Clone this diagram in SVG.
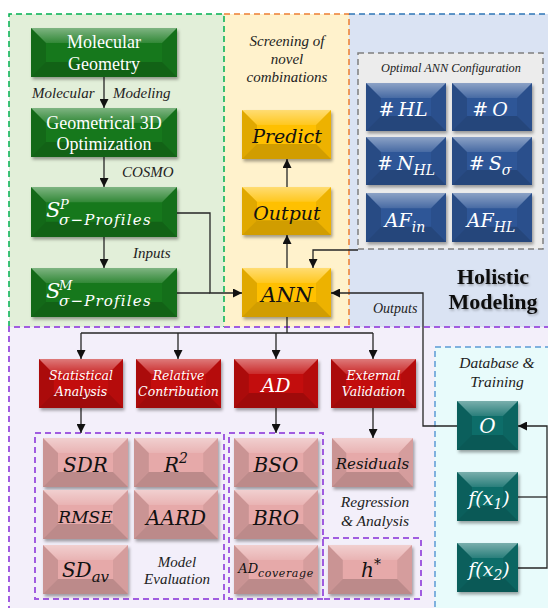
<svg xmlns="http://www.w3.org/2000/svg" xmlns:xlink="http://www.w3.org/1999/xlink" width="548" height="608" viewBox="0 0 548 608">
  <style>
    .ln { fill: none; stroke: #262626; stroke-width: 1.3; }
    .arr { marker-end: url(#ah); }
    .green { fill: #16781a; }
    .yellow { fill: #ffc000; }
    .blue { fill: #2f5697; }
    .red { fill: #c30a0e; }
    .pink { fill: #e6a9a9; }
    .teal { fill: #0f6d69; }
    .box { filter: url(#sh); }
    .bt { fill: url(#gTop); }
    .bl { fill: #000; opacity: 0.12; }
    .br { fill: #000; opacity: 0.07; }
    .bb { fill: #000; opacity: 0.18; }
    .wt { fill: #ffffff; }
    .bk { fill: #111111; }
    .rg { font-family: "Liberation Serif", "Times New Roman", serif; font-size: 18px; }
    .mi { font-family: "DejaVu Serif", serif; font-style: italic; }
    .an { font-family: "Liberation Serif", "Times New Roman", serif; font-style: italic; font-size: 15px; fill: #222; }
    .c { text-anchor: middle; }
    .dash-p { fill: none; stroke: #a05ce0; stroke-width: 2; stroke-dasharray: 6 4; }
  </style>
  <defs>
    <marker id="ah" viewBox="0 0 10 10" refX="10" refY="5" markerWidth="9" markerHeight="9" markerUnits="userSpaceOnUse" orient="auto">
      <path d="M0,0 L10,5 L0,10 z" fill="#111"/>
    </marker>
    <filter id="sh" x="-10%" y="-10%" width="130%" height="140%">
      <feDropShadow dx="1.5" dy="2.5" stdDeviation="1.6" flood-color="#000" flood-opacity="0.35"/>
    </filter>
    <filter id="tsh" x="-5%" y="-20%" width="115%" height="150%">
      <feDropShadow dx="1" dy="1.5" stdDeviation="0.8" flood-color="#000" flood-opacity="0.3"/>
    </filter>
    <linearGradient id="gTop" x1="0" y1="0" x2="0" y2="1">
      <stop offset="0" stop-color="#fff" stop-opacity="0.45"/>
      <stop offset="1" stop-color="#fff" stop-opacity="0.12"/>
    </linearGradient>
    <!-- bevel overlays, one per box size -->
    <symbol id="bv146" viewBox="0 0 146 49" preserveAspectRatio="none">
      <polygon class="bt" points="0,0 146,0 131,15 15,15"/>
      <polygon class="bl" points="0,0 15,15 15,34 0,49"/>
      <polygon class="br" points="146,0 146,49 131,34 131,15"/>
      <polygon class="bb" points="0,49 15,34 131,34 146,49"/>
    </symbol>
    <symbol id="bv89" viewBox="0 0 89 49" preserveAspectRatio="none">
      <polygon class="bt" points="0,0 89,0 74,15 15,15"/>
      <polygon class="bl" points="0,0 15,15 15,34 0,49"/>
      <polygon class="br" points="89,0 89,49 74,34 74,15"/>
      <polygon class="bb" points="0,49 15,34 74,34 89,49"/>
    </symbol>
    <symbol id="bv80" viewBox="0 0 80 48" preserveAspectRatio="none">
      <polygon class="bt" points="0,0 80,0 65,15 15,15"/>
      <polygon class="bl" points="0,0 15,15 15,33 0,48"/>
      <polygon class="br" points="80,0 80,48 65,33 65,15"/>
      <polygon class="bb" points="0,48 15,33 65,33 80,48"/>
    </symbol>
    <symbol id="bv85" viewBox="0 0 85 49" preserveAspectRatio="none">
      <polygon class="bt" points="0,0 85,0 70,15 15,15"/>
      <polygon class="bl" points="0,0 15,15 15,34 0,49"/>
      <polygon class="br" points="85,0 85,49 70,34 70,15"/>
      <polygon class="bb" points="0,49 15,34 70,34 85,49"/>
    </symbol>
    <symbol id="bv61" viewBox="0 0 61 49" preserveAspectRatio="none">
      <polygon class="bt" points="0,0 61,0 46,15 15,15"/>
      <polygon class="bl" points="0,0 15,15 15,34 0,49"/>
      <polygon class="br" points="61,0 61,49 46,34 46,15"/>
      <polygon class="bb" points="0,49 15,34 46,34 61,49"/>
    </symbol>
  </defs>

  <rect width="548" height="608" fill="#ffffff"/>

  <!-- background panels -->
  <g id="panels">
    <rect x="9" y="14" width="215" height="313" fill="#e2efd9"/>
    <rect x="224" y="14" width="125" height="313" fill="#fff2cc"/>
    <rect x="349" y="14" width="205" height="313" fill="#dae3f3"/>
    <rect x="9" y="327" width="545" height="290" fill="#f3effa"/>
    <path d="M9,327 V14 H224 V327" fill="none" stroke="#00b050" stroke-width="1.5" stroke-dasharray="6 4"/>
    <path d="M224,14 H349 V327" fill="none" stroke="#ed7d31" stroke-width="1.5" stroke-dasharray="6 4"/>
    <path d="M349,14 H552" fill="none" stroke="#2e75b6" stroke-width="1.5" stroke-dasharray="6 4"/>
    <path d="M9,612 V327 H552" fill="none" stroke="#a05ce0" stroke-width="2" stroke-dasharray="6 4"/>
    <!-- database & training panel -->
    <rect x="435" y="347" width="125" height="270" fill="#e8fbfb" stroke="#5b9bd5" stroke-width="1.5" stroke-dasharray="6 4"/>
    <!-- optimal configuration panel -->
    <rect x="358" y="53" width="185" height="196" fill="#ececec" stroke="#7f7f7f" stroke-width="1.5" stroke-dasharray="6 4"/>
    <!-- evaluation sub-panels -->
    <rect class="dash-p" x="35" y="433" width="189" height="166"/>
    <rect class="dash-p" x="229" y="433" width="94" height="166"/>
    <rect class="dash-p" x="323" y="538" width="98" height="61"/>
  </g>

  <!-- annotations -->
  <g id="labels">
    <text class="an" x="32" y="98">Molecular</text>
    <text class="an" x="113" y="98">Modeling</text>
    <text class="an" x="122" y="177">COSMO</text>
    <text class="an" x="133" y="258">Inputs</text>
    <text class="an c" x="287" y="46">Screening of</text>
    <text class="an c" x="287" y="64">novel</text>
    <text class="an c" x="287" y="82">combinations</text>
    <text class="an c" x="451" y="72" style="font-size:12.3px">Optimal ANN Configuration</text>
    <text class="an" x="373" y="313" style="font-size:14px">Outputs</text>
    <g filter="url(#tsh)">
      <text class="c" x="493" y="284" font-family="'Liberation Serif', 'Times New Roman', serif" font-weight="bold" font-size="22" fill="#111">Holistic</text>
      <text class="c" x="493" y="309" font-family="'Liberation Serif', 'Times New Roman', serif" font-weight="bold" font-size="22" fill="#111">Modeling</text>
    </g>
    <text class="an c" x="177" y="567">Model</text>
    <text class="an c" x="177" y="584">Evaluation</text>
    <text class="an c" x="375" y="507" style="font-size:15.5px">Regression</text>
    <text class="an c" x="375" y="526" style="font-size:15.5px">&amp; Analysis</text>
    <text class="an c" x="497" y="368" style="font-size:15.5px">Database &amp;</text>
    <text class="an c" x="497" y="387" style="font-size:15.5px">Training</text>
  </g>

  <!-- connectors -->
  <g id="connectors">
    <line class="ln arr" x1="104" y1="77" x2="104" y2="108"/>
    <line class="ln arr" x1="104" y1="157" x2="104" y2="187"/>
    <line class="ln arr" x1="104" y1="237" x2="104" y2="268"/>
    <polyline class="ln arr" points="177,213 210,213 210,293 242,293"/>
    <line class="ln" x1="177" y1="293" x2="210" y2="293"/>
    <line class="ln arr" x1="287" y1="268" x2="287" y2="235"/>
    <line class="ln arr" x1="287" y1="187" x2="287" y2="159"/>
    <polyline class="ln arr" points="358,250 313,250 313,268"/>
    <polyline class="ln arr" points="457,426 423,426 423,293 331,293"/>
    <line class="ln" x1="287" y1="317" x2="287" y2="333"/>
    <line class="ln" x1="81" y1="333" x2="373" y2="333"/>
    <line class="ln arr" x1="81" y1="333" x2="81" y2="359"/>
    <line class="ln arr" x1="178" y1="333" x2="178" y2="359"/>
    <line class="ln arr" x1="276" y1="333" x2="276" y2="359"/>
    <line class="ln arr" x1="373" y1="333" x2="373" y2="359"/>
    <line class="ln arr" x1="81" y1="408" x2="81" y2="433"/>
    <line class="ln arr" x1="276" y1="408" x2="276" y2="433"/>
    <line class="ln arr" x1="373" y1="408" x2="373" y2="438"/>
    <line class="ln" x1="518" y1="497" x2="547" y2="497"/>
    <polyline class="ln arr" points="518,568 547,568 547,426 518,426"/>
  </g>

  <!-- molecular modeling -->
  <g id="n-molgeo">
    <rect class="box green" x="31" y="28" width="146" height="49"/>
    <use href="#bv146" x="31" y="28" width="146" height="49"/>
    <text class="rg wt c" x="104" y="48">Molecular</text>
    <text class="rg wt c" x="104" y="70">Geometry</text>
  </g>
  <g id="n-geom3d">
    <rect class="box green" x="31" y="108" width="146" height="49"/>
    <use href="#bv146" x="31" y="108" width="146" height="49"/>
    <text class="rg wt c" x="104" y="129">Geometrical 3D</text>
    <text class="rg wt c" x="104" y="150">Optimization</text>
  </g>
  <g id="n-sp">
    <rect class="box green" x="31" y="187" width="146" height="50"/>
    <use href="#bv146" x="31" y="187" width="146" height="50"/>
    <text class="mi wt"><tspan x="46" y="217" font-size="21">S</tspan><tspan x="60" y="209" font-size="13">P</tspan><tspan x="59" y="225" font-size="15" letter-spacing="1.2">σ−Profiles</tspan></text>
  </g>
  <g id="n-sm">
    <rect class="box green" x="31" y="268" width="146" height="49"/>
    <use href="#bv146" x="31" y="268" width="146" height="49"/>
    <text class="mi wt"><tspan x="46" y="298" font-size="21">S</tspan><tspan x="59" y="290" font-size="13">M</tspan><tspan x="59" y="306" font-size="15" letter-spacing="1.2">σ−Profiles</tspan></text>
  </g>

  <!-- screening -->
  <g id="n-predict">
    <rect class="box yellow" x="242" y="110" width="89" height="49"/>
    <use href="#bv89" x="242" y="110" width="89" height="49"/>
    <text class="mi bk c" x="287" y="143" font-size="19">Predict</text>
  </g>
  <g id="n-output">
    <rect class="box yellow" x="242" y="187" width="89" height="48"/>
    <use href="#bv89" x="242" y="187" width="89" height="48"/>
    <text class="mi bk c" x="287" y="220" font-size="19">Output</text>
  </g>
  <g id="n-ann">
    <rect class="box yellow" x="242" y="268" width="89" height="49"/>
    <use href="#bv89" x="242" y="268" width="89" height="49"/>
    <text class="mi bk c" x="287" y="302" font-size="21">ANN</text>
  </g>

  <!-- optimal ANN configuration -->
  <g id="n-hl">
    <rect class="box blue" x="366" y="83" width="80" height="48"/>
    <use href="#bv80" x="366" y="83" width="80" height="48"/>
    <text class="mi wt c" x="403" y="116" font-size="19">#<tspan dx="4">HL</tspan></text>
  </g>
  <g id="n-o">
    <rect class="box blue" x="452" y="83" width="80" height="48"/>
    <use href="#bv80" x="452" y="83" width="80" height="48"/>
    <text class="mi wt c" x="490" y="116" font-size="19">#<tspan dx="4">O</tspan></text>
  </g>
  <g id="n-nhl">
    <rect class="box blue" x="366" y="137" width="80" height="48"/>
    <use href="#bv80" x="366" y="137" width="80" height="48"/>
    <text class="mi wt c" x="406" y="170" font-size="19">#<tspan dx="4">N</tspan><tspan dy="5" font-size="14">HL</tspan></text>
  </g>
  <g id="n-ssig">
    <rect class="box blue" x="452" y="137" width="80" height="48"/>
    <use href="#bv80" x="452" y="137" width="80" height="48"/>
    <text class="mi wt c" x="490" y="170" font-size="19">#<tspan dx="4">S</tspan><tspan dy="5" font-size="14">σ</tspan></text>
  </g>
  <g id="n-afin">
    <rect class="box blue" x="366" y="193" width="80" height="49"/>
    <use href="#bv80" x="366" y="193" width="80" height="49"/>
    <text class="mi wt c" x="405" y="227" font-size="19">AF<tspan dy="5" font-size="14">in</tspan></text>
  </g>
  <g id="n-afhl">
    <rect class="box blue" x="452" y="193" width="80" height="49"/>
    <use href="#bv80" x="452" y="193" width="80" height="49"/>
    <text class="mi wt c" x="491" y="227" font-size="19">AF<tspan dy="5" font-size="14">HL</tspan></text>
  </g>

  <!-- analysis branches -->
  <g id="n-stat">
    <rect class="box red" x="39" y="359" width="84" height="49"/>
    <use href="#bv85" x="39" y="359" width="84" height="49"/>
    <text class="mi wt c" x="81" y="380" font-size="12.5">Statistical</text>
    <text class="mi wt c" x="81" y="396" font-size="12.5">Analysis</text>
  </g>
  <g id="n-relcon">
    <rect class="box red" x="136" y="359" width="85" height="49"/>
    <use href="#bv85" x="136" y="359" width="85" height="49"/>
    <text class="mi wt c" x="178.5" y="380" font-size="12.5">Relative</text>
    <text class="mi wt c" x="178.5" y="396" font-size="12.5">Contribution</text>
  </g>
  <g id="n-ad">
    <rect class="box red" x="234" y="359" width="84" height="49"/>
    <use href="#bv85" x="234" y="359" width="84" height="49"/>
    <text class="mi wt c" x="276" y="392" font-size="19">AD</text>
  </g>
  <g id="n-extval">
    <rect class="box red" x="331" y="359" width="85" height="49"/>
    <use href="#bv85" x="331" y="359" width="85" height="49"/>
    <text class="mi wt c" x="373.5" y="380" font-size="12.5">External</text>
    <text class="mi wt c" x="373.5" y="396" font-size="12.5">Validation</text>
  </g>

  <!-- model evaluation metrics -->
  <g id="n-sdr">
    <rect class="box pink" x="43" y="438" width="85" height="49"/>
    <use href="#bv85" x="43" y="438" width="85" height="49"/>
    <text class="mi bk c" x="85.5" y="472" font-size="20">SDR</text>
  </g>
  <g id="n-r2">
    <rect class="box pink" x="134" y="438" width="84" height="49"/>
    <use href="#bv85" x="134" y="438" width="84" height="49"/>
    <text class="mi bk c" x="176" y="472" font-size="20">R<tspan dy="-9" font-size="14">2</tspan></text>
  </g>
  <g id="n-rmse">
    <rect class="box pink" x="43" y="490" width="85" height="49"/>
    <use href="#bv85" x="43" y="490" width="85" height="49"/>
    <text class="mi bk c" x="85.5" y="523" font-size="17">RMSE</text>
  </g>
  <g id="n-aard">
    <rect class="box pink" x="134" y="490" width="84" height="49"/>
    <use href="#bv85" x="134" y="490" width="84" height="49"/>
    <text class="mi bk c" x="176" y="525" font-size="20">AARD</text>
  </g>
  <g id="n-sdav">
    <rect class="box pink" x="43" y="545" width="85" height="49"/>
    <use href="#bv85" x="43" y="545" width="85" height="49"/>
    <text class="mi bk c" x="85.5" y="577" font-size="20">SD<tspan dy="5" font-size="15">av</tspan></text>
  </g>

  <!-- applicability domain -->
  <g id="n-bso">
    <rect class="box pink" x="234" y="438" width="84" height="49"/>
    <use href="#bv85" x="234" y="438" width="84" height="49"/>
    <text class="mi bk c" x="276" y="472" font-size="20">BSO</text>
  </g>
  <g id="n-bro">
    <rect class="box pink" x="234" y="490" width="84" height="49"/>
    <use href="#bv85" x="234" y="490" width="84" height="49"/>
    <text class="mi bk c" x="276" y="525" font-size="20">BRO</text>
  </g>
  <g id="n-adcov">
    <rect class="box pink" x="234" y="545" width="84" height="49"/>
    <use href="#bv85" x="234" y="545" width="84" height="49"/>
    <text class="mi bk c" x="276" y="573" font-size="13">AD<tspan dy="4" font-size="11" letter-spacing="0.6">coverage</tspan></text>
  </g>

  <!-- regression & analysis -->
  <g id="n-resid">
    <rect class="box pink" x="332" y="438" width="81" height="49"/>
    <use href="#bv85" x="332" y="438" width="81" height="49"/>
    <text class="mi bk c" x="372.5" y="469" font-size="15">Residuals</text>
  </g>
  <g id="n-hstar">
    <rect class="box pink" x="328" y="545" width="84" height="49"/>
    <use href="#bv85" x="328" y="545" width="84" height="49"/>
    <text class="mi bk c" x="371" y="577" font-size="20">h<tspan dy="-8" font-size="14">*</tspan></text>
  </g>

  <!-- database & training -->
  <g id="n-dbo">
    <rect class="box teal" x="457" y="401" width="61" height="49"/>
    <use href="#bv61" x="457" y="401" width="61" height="49"/>
    <text class="mi wt c" x="487.5" y="433" font-size="20">O</text>
  </g>
  <g id="n-fx1">
    <rect class="box teal" x="457" y="472" width="61" height="49"/>
    <use href="#bv61" x="457" y="472" width="61" height="49"/>
    <text class="mi wt c" x="489" y="505" font-size="19">f(x<tspan dy="4" font-size="14">1</tspan><tspan dy="-4">)</tspan></text>
  </g>
  <g id="n-fx2">
    <rect class="box teal" x="457" y="543" width="61" height="49"/>
    <use href="#bv61" x="457" y="543" width="61" height="49"/>
    <text class="mi wt c" x="489" y="576" font-size="19">f(x<tspan dy="4" font-size="14">2</tspan><tspan dy="-4">)</tspan></text>
  </g>
</svg>
